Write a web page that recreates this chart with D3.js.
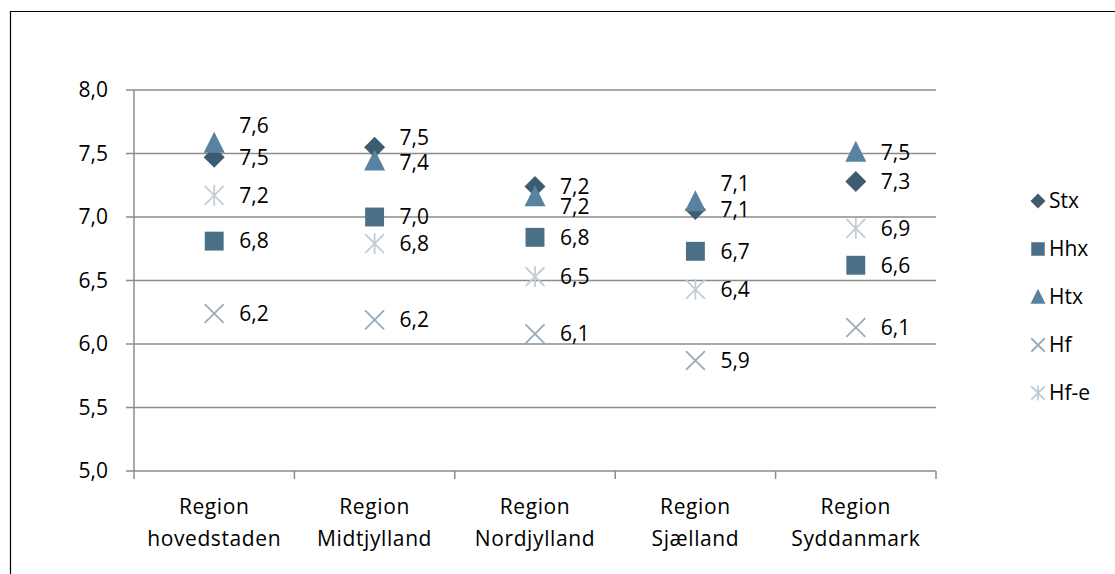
<!DOCTYPE html>
<html>
<head>
<meta charset="utf-8">
<script src="https://cdn.jsdelivr.net/npm/d3@7.9.0/dist/d3.min.js"></script>
<style>
  body { margin: 0; background: #fff; }
  svg text { font-family: "Open Sans", "Liberation Sans", sans-serif; fill: #000; }
</style>
</head>
<body>
<svg id="chart" width="1115" height="574"></svg>
<script>
// data
const regions = ['Region hovedstaden', 'Region Midtjylland', 'Region Nordjylland', 'Region Sjælland', 'Region Syddanmark'];
const seriesNames = ['Stx', 'Hhx', 'Htx', 'Hf', 'Hf-e'];
const stx = [7.47, 7.55, 7.24, 7.06, 7.28];
const hhx = [6.81, 7.0, 6.84, 6.73, 6.62];
const htx = [7.58, 7.44, 7.16, 7.12, 7.51];
const hf = [6.24, 6.19, 6.08, 5.87, 6.13];
const hfe = [7.17, 6.79, 6.53, 6.43, 6.91];
const yTicks = [5.0, 5.5, 6.0, 6.5, 7.0, 7.5, 8.0];

// label nudges (px) where Excel moved labels to avoid overlap
const labelShift = {
  Stx: [0, -10, 0, 0, 0],
  Hhx: [0, 0, 0, 0, 0],
  Htx: [-18, 2, 10, -18, 0],
  Hf: [0, 0, 0, 0, 0],
  'Hf-e': [0, 0, 0, 0, 0]
};

const allValues = [stx, hhx, htx, hf, hfe];
const colors = ['#3e5c70', '#4a6f86', '#5783a0', '#98abb8', '#c2cdd6'];
const shapes = ['diamond', 'square', 'triangle', 'x', 'star'];

const svg = d3.select('#chart');
const comma = (v) => d3.format('.1f')(v).replace('.', ',');

// outer frame (only top and left visible)
svg.append('path')
  .attr('d', 'M10.5,574 V11.5 H1115')
  .attr('fill', 'none')
  .attr('stroke', '#000')
  .attr('stroke-width', 1.2);

const x = d3.scaleBand().domain(regions).range([134, 936]);
const y = d3.scaleLinear().domain([5, 8]).range([471, 90]);

// gridlines
svg.append('g')
  .selectAll('line')
  .data(yTicks)
  .join('line')
  .attr('x1', 126).attr('x2', 936)
  .attr('y1', (d) => y(d)).attr('y2', (d) => y(d))
  .attr('stroke', '#8c8c8c')
  .attr('stroke-width', 1.5);

// y axis line
svg.append('line')
  .attr('x1', 134).attr('x2', 134)
  .attr('y1', y(8)).attr('y2', y(5))
  .attr('stroke', '#8c8c8c')
  .attr('stroke-width', 1.5);

// y tick labels
svg.append('g')
  .selectAll('text')
  .data(yTicks)
  .join('text')
  .attr('x', 108)
  .attr('y', (d) => y(d))
  .attr('dy', '0.35em')
  .attr('text-anchor', 'end')
  .style('font-size', '21px')
  .text(comma);

// category ticks
const bounds = regions.map((r) => x(r)).concat([x.range()[1]]);
svg.append('g')
  .selectAll('line')
  .data(bounds)
  .join('line')
  .attr('x1', (d) => d).attr('x2', (d) => d)
  .attr('y1', y(5)).attr('y2', y(5) + 8)
  .attr('stroke', '#8c8c8c')
  .attr('stroke-width', 1.5);

// category labels, two lines
const catLabels = svg.append('g')
  .selectAll('text')
  .data(regions)
  .join('text')
  .attr('x', (d) => x(d) + x.bandwidth() / 2)
  .attr('text-anchor', 'middle')
  .style('font-size', '21px')
  .style('letter-spacing', '0.6px');
catLabels.each(function (d) {
  const parts = d.split(' ');
  const t = d3.select(this);
  t.append('tspan').attr('x', x(d) + x.bandwidth() / 2).attr('y', 514).text(parts[0]);
  t.append('tspan').attr('x', x(d) + x.bandwidth() / 2).attr('y', 546).text(parts.slice(1).join(' '));
});

function drawMarker(g, shape, color, cx, cy, s) {
  if (shape === 'diamond') {
    g.append('path')
      .attr('d', `M${cx},${cy - s * 0.5} L${cx + s * 0.5},${cy} L${cx},${cy + s * 0.5} L${cx - s * 0.5},${cy} Z`)
      .attr('fill', color);
  } else if (shape === 'square') {
    g.append('rect')
      .attr('x', cx - s * 0.45).attr('y', cy - s * 0.45)
      .attr('width', s * 0.9).attr('height', s * 0.9)
      .attr('fill', color);
  } else if (shape === 'triangle') {
    g.append('path')
      .attr('d', `M${cx},${cy - s * 0.55} L${cx + s * 0.5},${cy + s * 0.45} L${cx - s * 0.5},${cy + s * 0.45} Z`)
      .attr('fill', color);
  } else if (shape === 'x') {
    const h = s * 0.45;
    g.append('path')
      .attr('d', `M${cx - h},${cy - h} L${cx + h},${cy + h} M${cx - h},${cy + h} L${cx + h},${cy - h}`)
      .attr('stroke', color).attr('stroke-width', 1.8).attr('fill', 'none');
  } else {
    const h = s * 0.45;
    g.append('path')
      .attr('d', `M${cx - h},${cy - h} L${cx + h},${cy + h} M${cx - h},${cy + h} L${cx + h},${cy - h} M${cx},${cy - h * 1.1} L${cx},${cy + h * 1.1}`)
      .attr('stroke', color).attr('stroke-width', 1.8).attr('fill', 'none');
  }
}

// markers + data labels
const plot = svg.append('g');
allValues.forEach((vals, si) => {
  vals.forEach((v, i) => {
    const cx = x(regions[i]) + x.bandwidth() / 2;
    const cy = y(v);
    drawMarker(plot, shapes[si], colors[si], cx, cy, 21);
  });
});
allValues.forEach((vals, si) => {
  vals.forEach((v, i) => {
    const cx = x(regions[i]) + x.bandwidth() / 2;
    plot.append('text')
      .attr('x', cx + 25)
      .attr('y', y(v) + labelShift[seriesNames[si]][i])
      .attr('dy', '0.35em')
      .style('font-size', '21px')
      .text(comma(v));
  });
});

// legend
const legend = svg.append('g');
seriesNames.forEach((name, si) => {
  const ly = 201 + si * 48;
  drawMarker(legend, shapes[si], colors[si], 1038, ly, 15);
  legend.append('text')
    .attr('x', 1049)
    .attr('y', ly)
    .attr('dy', '0.35em')
    .style('font-size', '21px')
    .text(name);
});
</script>
</body>
</html>
